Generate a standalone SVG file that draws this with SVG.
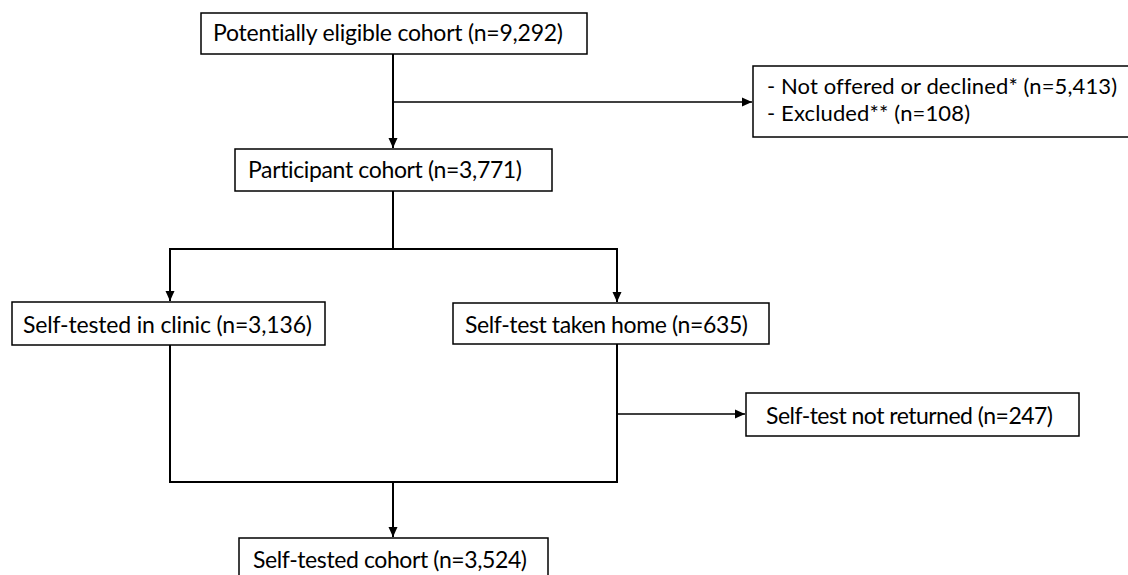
<svg xmlns="http://www.w3.org/2000/svg" width="1128" height="575" viewBox="0 0 1128 575">
  <style>
    .box { fill: #ffffff; stroke: #000000; stroke-width: 1.5; }
    .lbl { font-family: Lato, "Open Sans", "Liberation Sans", sans-serif; font-size: 23px; fill: #000000; font-variant-ligatures: none; font-feature-settings: "liga" 0; }
    .sm { font-size: 22px; }
    .conn { fill: none; stroke: #000000; stroke-width: 2; }
    .thin { fill: none; stroke: #000000; stroke-width: 1.5; }
  </style>
  <defs>
    <marker id="arr" markerUnits="userSpaceOnUse" markerWidth="12" markerHeight="12" viewBox="0 0 12 12" refX="11" refY="6" orient="auto">
      <path d="M1,1.5 L11,6 L1,10.5 Z" fill="#000000"/>
    </marker>
  </defs>
  <rect width="1128" height="575" fill="#ffffff"/>

  <g id="connectors">
    <line class="conn" x1="393" y1="54" x2="393" y2="148" marker-end="url(#arr)"/>
    <line class="thin" x1="393" y1="102" x2="752" y2="102" marker-end="url(#arr)"/>
    <line class="conn" x1="393" y1="191" x2="393" y2="249"/>
    <line class="conn" x1="169" y1="249" x2="618" y2="249"/>
    <line class="conn" x1="170" y1="249" x2="170" y2="301" marker-end="url(#arr)"/>
    <line class="conn" x1="617" y1="249" x2="617" y2="302" marker-end="url(#arr)"/>
    <polyline class="conn" points="170,345 170,482 617,482 617,344"/>
    <line class="conn" x1="393" y1="482" x2="393" y2="537" marker-end="url(#arr)"/>
    <line class="thin" x1="617" y1="414" x2="745" y2="414" marker-end="url(#arr)"/>
  </g>

  <g id="node-eligible">
    <rect class="box" x="201" y="13" width="386" height="41"/>
    <text class="lbl" x="213" y="41" textLength="350">Potentially eligible cohort (n=9,292)</text>
  </g>

  <g id="node-excluded">
    <rect class="box" x="753" y="66" width="390" height="71"/>
    <text class="lbl sm" x="767" y="94" textLength="350">- Not offered or declined* (n=5,413)</text>
    <text class="lbl sm" x="767" y="121" textLength="203">- Excluded** (n=108)</text>
  </g>

  <g id="node-participant">
    <rect class="box" x="235" y="149" width="317" height="42"/>
    <text class="lbl" x="248" y="178" textLength="274">Participant cohort (n=3,771)</text>
  </g>

  <g id="node-clinic">
    <rect class="box" x="12" y="302" width="313" height="43"/>
    <text class="lbl" x="23" y="333" textLength="289">Self-tested in clinic (n=3,136)</text>
  </g>

  <g id="node-home">
    <rect class="box" x="453" y="303" width="316" height="41"/>
    <text class="lbl" x="465" y="333" textLength="283">Self-test taken home (n=635)</text>
  </g>

  <g id="node-not-returned">
    <rect class="box" x="746" y="393" width="333" height="43"/>
    <text class="lbl" x="766" y="424" textLength="287">Self-test not returned (n=247)</text>
  </g>

  <g id="node-self-tested">
    <rect class="box" x="239" y="538" width="309" height="50"/>
    <text class="lbl" x="253" y="568" textLength="274">Self-tested cohort (n=3,524)</text>
  </g>
</svg>
